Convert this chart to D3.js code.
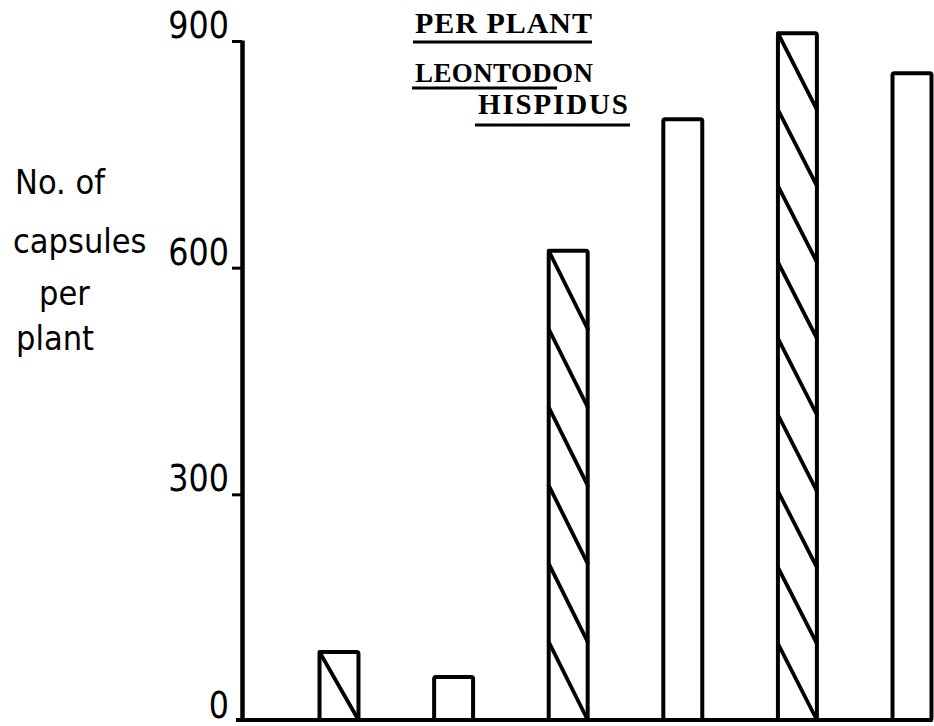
<!DOCTYPE html>
<html>
<head>
<meta charset="utf-8">
<script src="https://cdn.jsdelivr.net/npm/d3@7/dist/d3.min.js"></script>
<style>
  html, body { margin: 0; padding: 0; background: #fff; }
  svg { display: block; }
</style>
</head>
<body>
<svg id="chart" width="934" height="726"></svg>
<script>
// ---- data ----
const categories = ["1", "2", "3", "4", "5", "6"];
const values = [90, 57, 621, 795, 909, 856];
const hatched = [true, false, true, false, true, false];
const yTicks = [0, 300, 600, 900];
const yLabelLines = ["No. of", "capsules", "per", "plant"];
const titleLines = ["PER PLANT", "LEONTODON", "HISPIDUS"];

// ---- layout ----
const svg = d3.select("#chart");
const W = 934, H = 726;
svg.append("rect").attr("width", W).attr("height", H).attr("fill", "#fff");

const axisX = 242;
const y = d3.scaleLinear().domain([0, 900]).range([720, 40]);
const step = 114.6;
const x = d3.scaleBand()
  .domain(categories)
  .range([339 - step / 2, 339 - step / 2 + step * categories.length])
  .paddingInner(0.66)
  .paddingOuter(0.33);

const ink = "#000";

// ---- bars ----
const data = categories.map((c, i) => ({ c, v: values[i], h: hatched[i] }));
const bars = svg.append("g");
bars.selectAll("rect.bar")
  .data(data)
  .join("rect")
  .attr("class", "bar")
  .attr("x", d => x(d.c))
  .attr("y", d => y(d.v))
  .attr("width", x.bandwidth())
  .attr("height", d => y(0) - y(d.v))
  .attr("rx", 2)
  .attr("fill", "#fff")
  .attr("stroke", ink)
  .attr("stroke-width", 4);

// hatching: one diagonal stripe per ~100 units, fitted to bar height
const stripes = [];
data.filter(d => d.h).forEach(d => {
  const n = Math.max(1, Math.round(d.v / 100));
  const top = y(d.v), bot = y(0);
  const hs = (bot - top) / n;
  const x0 = x(d.c), x1 = x(d.c) + x.bandwidth();
  for (let i = 0; i < n; i++) {
    stripes.push({ x0, y0: top + i * hs, x1, y1: top + (i + 1) * hs });
  }
});
bars.selectAll("line.hatch")
  .data(stripes)
  .join("line")
  .attr("class", "hatch")
  .attr("x1", d => d.x0).attr("y1", d => d.y0)
  .attr("x2", d => d.x1).attr("y2", d => d.y1)
  .attr("stroke", ink)
  .attr("stroke-width", 3.8)
  .attr("stroke-linecap", "round");

// ---- baseline (x axis) ----
const xEnd = x(categories[categories.length - 1]) + x.bandwidth();
svg.append("line")
  .attr("x1", axisX - 6).attr("x2", xEnd + 1)
  .attr("y1", y(0)).attr("y2", y(0))
  .attr("stroke", ink).attr("stroke-width", 4);

// ---- y axis ----
const yAxis = d3.axisLeft(y).tickValues(yTicks).tickSize(10).tickSizeOuter(0).tickFormat("");
const ga = svg.append("g").attr("transform", `translate(${axisX},0)`).call(yAxis);
ga.select(".domain").attr("stroke", ink).attr("stroke-width", 4.5);
ga.selectAll(".tick line").attr("stroke", ink).attr("stroke-width", 3)
  .attr("y1", 1).attr("y2", 1);
ga.selectAll(".tick").filter(d => d === 0).select("line").remove();

// tick labels (condensed look)
svg.append("g").selectAll("g.tl")
  .data(yTicks)
  .join("g")
  .attr("class", "tl")
  .attr("transform", d => `translate(${axisX - 13},${y(d) - 2}) scale(0.86,1)`)
  .append("text")
  .attr("text-anchor", "end")
  .attr("font-family", "DejaVu Sans, sans-serif")
  .attr("font-size", 37)
  .attr("fill", ink)
  .text(d => d3.format("d")(d));

// ---- y axis label ----
const yLabelPos = [[15, 194], [13, 253], [39, 305], [16, 350]];
svg.append("g").selectAll("g.yl")
  .data(yLabelLines)
  .join("g")
  .attr("class", "yl")
  .attr("transform", (d, i) => `translate(${yLabelPos[i][0]},${yLabelPos[i][1]}) scale(0.9,1)`)
  .append("text")
  .attr("font-family", "DejaVu Sans, sans-serif")
  .attr("font-size", 34)
  .attr("fill", ink)
  .text(d => d);

// ---- title block (typewriter serif) ----
const tFont = "Liberation Serif, Times New Roman, serif";
const title = svg.append("g").attr("font-family", tFont).attr("font-weight", "bold")
  .attr("fill", ink);

title.append("text").attr("x", 415).attr("y", 33).attr("font-size", 30)
  .attr("textLength", 177).attr("lengthAdjust", "spacing").text(titleLines[0]);
title.append("text").attr("x", 415).attr("y", 82).attr("font-size", 27)
  .attr("textLength", 178).attr("lengthAdjust", "spacing").text(titleLines[1]);
title.append("text").attr("x", 478).attr("y", 114).attr("font-size", 29)
  .attr("textLength", 150).attr("lengthAdjust", "spacing").text(titleLines[2]);

const ul = [[413, 592, 42], [412, 557, 88], [475, 630, 125]];
svg.append("g").selectAll("line.ul")
  .data(ul)
  .join("line")
  .attr("x1", d => d[0]).attr("x2", d => d[1])
  .attr("y1", d => d[2]).attr("y2", d => d[2])
  .attr("stroke", ink).attr("stroke-width", 3);
</script>
</body>
</html>
